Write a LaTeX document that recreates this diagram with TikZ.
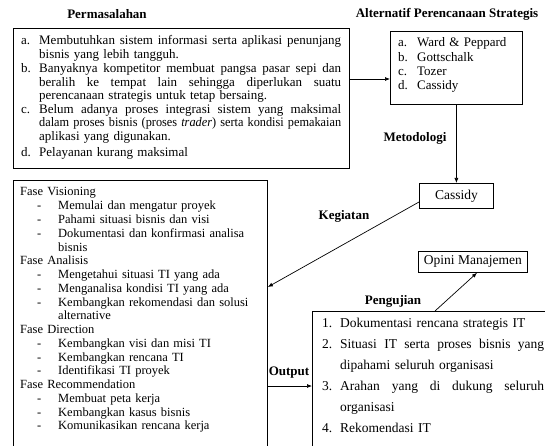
\documentclass[tikz,border=0pt]{standalone}
\usepackage{fontspec}
\usepackage{graphicx}
\setmainfont{Liberation Serif}
\usetikzlibrary{arrows.meta}
\newsavebox\fitbox
\newcommand\js{~\hfill}
\newcommand\fitline[2]{\sbox\fitbox{#2}\ifdim\wd\fitbox>#1\relax\resizebox{#1}{\height}{\usebox\fitbox}\else\hbox to #1{#2}\fi}
\tikzset{
  box/.style={draw, line width=0.8pt, inner sep=0pt, anchor=north west},
  txt/.style={inner sep=0pt, anchor=base west, align=left},
  lbl/.style={inner sep=0pt, anchor=base, font=\bfseries\fontsize{13}{15}\selectfont},
  arr/.style={line width=0.7pt, -{Latex[length=5pt,width=4pt]}},
}
\begin{document}
\begin{tikzpicture}[x=1pt,y=-1pt]
\clip (0,0) rectangle (545,446);
% boxes
\node[box, minimum width=336pt, minimum height=140pt] (b1) at (13,28) {};
\node[box, minimum width=132pt, minimum height=73pt] (b2) at (390,31) {};
\node[box, minimum width=74pt, minimum height=25pt] (cas) at (419,183) {};
\node[box, minimum width=109pt, minimum height=21pt] (opini) at (418,251) {};
\node[box, minimum width=254pt, minimum height=290pt] (fase) at (13,180) {};
\node[box, minimum width=260pt, minimum height=150pt] (out) at (312,311) {};
% box texts
\node (cast) at (cas.center) {\fontsize{13.5}{15}\selectfont Cassidy};
\node (opt) at (opini.center) {\fontsize{13.5}{15}\selectfont Opini Manajemen};
% titles and labels
\node[lbl] (t1) at (107,19) {Permasalahan};
\node[lbl] (t2) at (447,18) {Alternatif Perencanaan Strategis};
\node[lbl] (t3) at (415,142) {Metodologi};
\node[lbl] (t4) at (344,219) {Kegiatan};
\node[lbl] (t5) at (393,304) {Pengujian};
\node[lbl] (t6) at (289,375) {Output};
% box1 text
\node[txt, text width=330pt, font=\fontsize{13}{13.5}\selectfont] (b1t) at (21,45) {%
\makebox[18pt][l]{a.}\fitline{302pt}{Membutuhkan\js sistem\js informasi\js serta\js aplikasi\js penunjang}\\
\hspace*{18pt}bisnis yang lebih tangguh.\\[1pt]
\makebox[18pt][l]{b.}\fitline{302pt}{Banyaknya\js kompetitor\js membuat\js pangsa\js pasar\js sepi\js dan}\\
\hspace*{18pt}\fitline{302pt}{beralih\js ke\js tempat\js lain\js sehingga\js diperlukan\js suatu}\\
\hspace*{18pt}perencanaan strategis untuk tetap bersaing.\\
\makebox[18pt][l]{c.}\fitline{302pt}{Belum\js adanya\js proses\js integrasi\js sistem\js yang\js maksimal}\\
\hspace*{18pt}\fitline{302pt}{dalam proses bisnis (proses \textit{trader}) serta kondisi pemakaian}\\
\hspace*{18pt}aplikasi yang digunakan.\\[3pt]
\makebox[18pt][l]{d.}Pelayanan kurang maksimal};
% box2 text
\node[txt, text width=120pt, font=\fontsize{13}{14.3}\selectfont] (b2t) at (398,47) {%
\makebox[19pt][l]{a.}Ward \& Peppard\\
\makebox[19pt][l]{b.}Gottschalk\\
\makebox[19pt][l]{c.}Tozer\\
\makebox[19pt][l]{d.}Cassidy};
% fase text
\node[txt, text width=245pt, font=\fontsize{12.5}{13.76}\selectfont] (ft) at (20,196) {%
Fase Visioning\\
\hspace*{17pt}\makebox[21pt][l]{-}Memulai dan mengatur proyek\\
\hspace*{17pt}\makebox[21pt][l]{-}Pahami situasi bisnis dan visi\\
\hspace*{17pt}\makebox[21pt][l]{-}Dokumentasi dan konfirmasi analisa\\
\hspace*{38pt}bisnis\\
Fase Analisis\\
\hspace*{17pt}\makebox[21pt][l]{-}Mengetahui situasi TI yang ada\\
\hspace*{17pt}\makebox[21pt][l]{-}Menganalisa kondisi TI yang ada\\
\hspace*{17pt}\makebox[21pt][l]{-}Kembangkan rekomendasi dan solusi\\
\hspace*{38pt}alternative\\
Fase Direction\\
\hspace*{17pt}\makebox[21pt][l]{-}Kembangkan visi dan misi TI\\
\hspace*{17pt}\makebox[21pt][l]{-}Kembangkan rencana TI\\
\hspace*{17pt}\makebox[21pt][l]{-}Identifikasi TI proyek\\
Fase Recommendation\\
\hspace*{17pt}\makebox[21pt][l]{-}Membuat peta kerja\\
\hspace*{17pt}\makebox[21pt][l]{-}Kembangkan kasus bisnis\\
\hspace*{17pt}\makebox[21pt][l]{-}Komunikasikan rencana kerja};
% output text
\node[txt, text width=230pt, font=\fontsize{13.5}{21.1}\selectfont] (ot) at (322,327) {%
\makebox[18pt][l]{1.}Dokumentasi rencana strategis IT\\
\makebox[18pt][l]{2.}\fitline{204pt}{Situasi\js IT\js serta\js proses\js bisnis\js yang}\\
\hspace*{18pt}dipahami seluruh organisasi\\
\makebox[18pt][l]{3.}\fitline{204pt}{Arahan\js yang\js di\js dukung\js seluruh}\\
\hspace*{18pt}organisasi\\
\makebox[18pt][l]{4.}Rekomendasi IT};
% connectors
\draw[arr] (b1.east |- 0,79) -- (b2.west |- 0,79);
\draw[arr] (b2.south) -- (cas.north);
\draw[arr] (cas.west |- 0,202) -- (fase.east |- 0,287);
\draw[arr] (out.north west -| 435,0) -- (opini.south -| 477,0);
\draw[arr] (fase.east |- 0,386) -- (out.west |- 0,386);
\end{tikzpicture}
\end{document}
